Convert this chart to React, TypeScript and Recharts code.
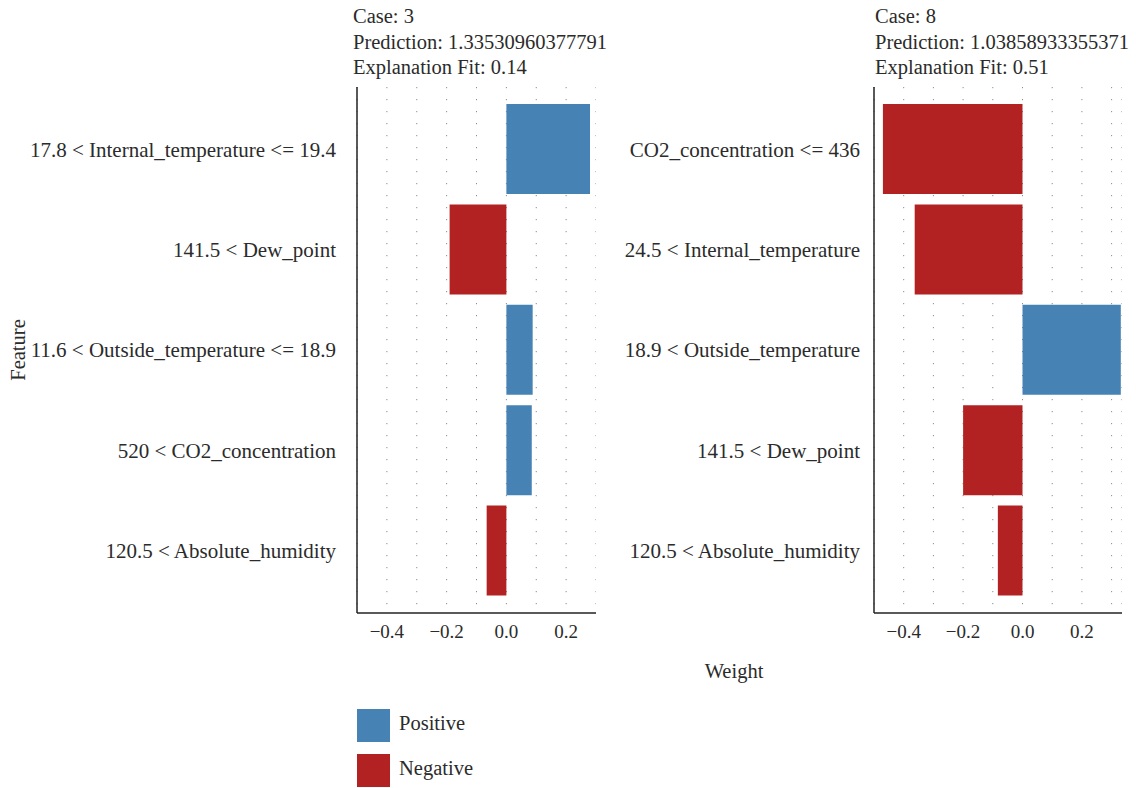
import { BarChart, Bar, XAxis, YAxis, CartesianGrid, Cell } from 'recharts'

// Explanation for case 3
const case3Features = [
  '17.8 < Internal_temperature <= 19.4',
  '141.5 < Dew_point',
  '11.6 < Outside_temperature <= 18.9',
  '520 < CO2_concentration',
  '120.5 < Absolute_humidity',
]
const case3Weights = [0.28, -0.19, 0.088, 0.085, -0.066]

// Explanation for case 8
const case8Features = [
  'CO2_concentration <= 436',
  '24.5 < Internal_temperature',
  '18.9 < Outside_temperature',
  '141.5 < Dew_point',
  '120.5 < Absolute_humidity',
]
const case8Weights = [-0.47, -0.363, 0.331, -0.2, -0.083]

const gridTicks = [-0.4, -0.3, -0.2, -0.1, 0, 0.1, 0.2, 0.3]
const labelTicks = [-0.4, -0.2, 0, 0.2]

const legendItems = [
  { name: 'Positive', color: '#4682B4' },
  { name: 'Negative', color: '#B22222' },
]

const FONT = "'Liberation Serif', 'DejaVu Serif', serif"
const TEXT = '#2b2b2b'

function fmtTick(v: number) {
  if (!labelTicks.some((t) => Math.abs(t - v) < 1e-9)) return ''
  return v < 0 ? `\u2212${Math.abs(v).toFixed(1)}` : v.toFixed(1)
}

interface PanelProps {
  features: string[]
  weights: number[]
  header: string[]
  left: number
  width: number
  yAxisWidth: number
  yTickMargin: number
  headerShift: number
  domain: [number, number]
}

function Panel({ features, weights, header, left, width, yAxisWidth, yTickMargin, headerShift, domain }: PanelProps) {
  const data = features.map((feature, i) => ({ feature, weight: weights[i] }))
  return (
    <>
      <div
        style={{
          position: 'absolute',
          left: left + yAxisWidth + headerShift,
          top: 4,
          fontSize: 20.5,
          lineHeight: '25.5px',
          color: TEXT,
          whiteSpace: 'nowrap',
        }}
      >
        {header.map((h) => (
          <div key={h}>{h}</div>
        ))}
      </div>
      <div style={{ position: 'absolute', left, top: 80 }}>
        <BarChart
          layout="vertical"
          width={width}
          height={580}
          data={data}
          margin={{ top: 7, right: 0, left: 0, bottom: 0 }}
        >
          <CartesianGrid
            horizontal={false}
            vertical
            stroke="#8c8c8c"
            strokeDasharray="1.2 10.8"
          />
          <XAxis
            type="number"
            dataKey="weight"
            domain={domain}
            ticks={gridTicks}
            tickFormatter={fmtTick}
            height={47}
            tickLine={false}
            tickSize={0}
            tickMargin={12}
            axisLine={{ stroke: '#222', strokeWidth: 1.5 }}
            tick={{ fill: TEXT, fontSize: 19, fontFamily: FONT }}
            allowDataOverflow
          />
          <YAxis
            type="category"
            dataKey="feature"
            width={yAxisWidth}
            padding={{ top: 12, bottom: 12 }}
            tickLine={false}
            tickSize={0}
            tickMargin={yTickMargin}
            axisLine={{ stroke: '#222', strokeWidth: 1.5 }}
            tick={{ fill: TEXT, fontSize: 21, fontFamily: FONT }}
            interval={0}
          />
          <Bar dataKey="weight" barSize={90} isAnimationActive={false}>
            {data.map((d) => (
              <Cell key={d.feature} fill={d.weight >= 0 ? legendItems[0].color : legendItems[1].color} />
            ))}
          </Bar>
        </BarChart>
      </div>
    </>
  )
}

export default function App() {
  return (
    <div
      style={{
        position: 'absolute',
        left: 0,
        top: 0,
        width: 1136,
        height: 788,
        background: '#fff',
        fontFamily: FONT,
        overflow: 'hidden',
      }}
    >
      <Panel
        features={case3Features}
        weights={case3Weights}
        header={['Case: 3', 'Prediction: 1.33530960377791', 'Explanation Fit: 0.14']}
        left={0}
        width={596}
        yAxisWidth={357}
        yTickMargin={21}
        headerShift={-4}
        domain={[-0.5, 0.3]}
      />
      <Panel
        features={case8Features}
        weights={case8Weights}
        header={['Case: 8', 'Prediction: 1.03858933355371', 'Explanation Fit: 0.51']}
        left={560}
        width={562}
        yAxisWidth={314}
        yTickMargin={14}
        headerShift={1}
        domain={[-0.5, 0.335]}
      />
      <div
        style={{
          position: 'absolute',
          left: 734,
          top: 660,
          transform: 'translateX(-50%)',
          fontSize: 20.5,
          color: TEXT,
        }}
      >
        Weight
      </div>
      <div
        style={{
          position: 'absolute',
          left: 18,
          top: 350,
          transform: 'translate(-50%, -50%) rotate(-90deg)',
          fontSize: 20.5,
          color: TEXT,
        }}
      >
        Feature
      </div>
      <div style={{ position: 'absolute', left: 357, top: 709 }}>
        {legendItems.map((it) => (
          <div key={it.name} style={{ display: 'flex', alignItems: 'flex-start', height: 45 }}>
            <div style={{ width: 33, height: 33, background: it.color }} />
            <span style={{ marginLeft: 9, fontSize: 20.5, lineHeight: '28px', color: TEXT }}>{it.name}</span>
          </div>
        ))}
      </div>
    </div>
  )
}
